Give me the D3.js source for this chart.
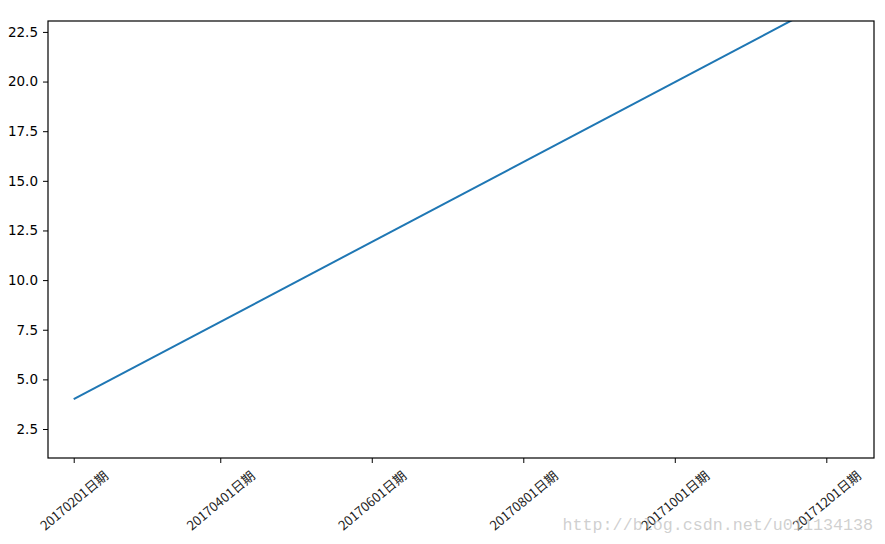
<!DOCTYPE html>
<html>
<head>
<meta charset="utf-8">
<script src="https://cdn.jsdelivr.net/npm/d3@7"></script>
<style>
  body { margin: 0; background: #fff; }
  svg { display: block; }
</style>
</head>
<body>
<div id="chart"></div>
<script>
// data: one straight line over the date axis
const dates = ['20170201', '20171201'];
const values = [4, 24];
const xTickDates = ['20170201', '20170401', '20170601', '20170801', '20171001', '20171201'];
const yTicks = [2.5, 5.0, 7.5, 10.0, 12.5, 15.0, 17.5, 20.0, 22.5];
const watermark = 'http://blog.csdn.net/u011134138';

const width = 885, height = 544;
const margin = { top: 21, right: 11, bottom: 86, left: 48 };
const parse = d3.utcParse('%Y%m%d');
const DAY = 864e5;

const svg = d3.select('#chart').append('svg')
    .attr('width', width)
    .attr('height', height);

// date axis, padded a bit past first and last tick like the original
const x = d3.scaleUtc()
    .domain([new Date(+parse(xTickDates[0]) - 10.35 * DAY), new Date(+parse(xTickDates[xTickDates.length - 1]) + 19.2 * DAY)])
    .range([margin.left, width - margin.right]);

const y = d3.scaleLinear()
    .domain([1.04, 23.05])
    .range([height - margin.bottom, margin.top]);

// clip the line to the axes box like matplotlib does
svg.append('clipPath').attr('id', 'plot-clip')
    .append('rect')
    .attr('x', margin.left)
    .attr('y', margin.top)
    .attr('width', width - margin.left - margin.right)
    .attr('height', height - margin.top - margin.bottom);

const line = d3.line()
    .x((d, i) => x(parse(dates[i])))
    .y(d => y(d));

svg.append('path')
    .datum(values)
    .attr('clip-path', 'url(#plot-clip)')
    .attr('fill', 'none')
    .attr('stroke', '#1f77b4')
    .attr('stroke-width', 2)
    .attr('d', line);

// y axis
const yAxis = svg.append('g')
    .attr('transform', `translate(${margin.left},0)`)
    .call(d3.axisLeft(y).tickValues(yTicks).tickFormat(d3.format('.1f')).tickSize(5).tickPadding(5));
yAxis.select('.domain').remove();
yAxis.selectAll('line').attr('stroke', '#000');
yAxis.selectAll('text')
    .attr('fill', '#000')
    .style('font-family', '"DejaVu Sans", sans-serif')
    .style('font-size', '13.5px');

// x axis
const xTickVals = xTickDates.map(parse);
const xAxis = svg.append('g')
    .attr('transform', `translate(0,${height - margin.bottom})`)
    .call(d3.axisBottom(x).tickValues(xTickVals).tickSize(5).tickFormat(''));
xAxis.select('.domain').remove();
xAxis.selectAll('line').attr('stroke', '#000');

svg.append('g').selectAll('text')
    .data(xTickDates)
    .join('text')
    .attr('transform', d => `translate(${x(parse(d))},${height - margin.bottom + 42}) rotate(-40)`)
    .attr('text-anchor', 'middle')
    .attr('dominant-baseline', 'central')
    .attr('fill', '#222')
    .style('font-family', '"Noto Sans CJK SC", sans-serif')
    .style('font-size', '13px')
    .text(d => d + '日期');

// axes box
svg.append('rect')
    .attr('x', margin.left)
    .attr('y', margin.top)
    .attr('width', width - margin.left - margin.right)
    .attr('height', height - margin.top - margin.bottom)
    .attr('fill', 'none')
    .attr('stroke', '#000')
    .attr('stroke-width', 1.2);

// blog watermark
svg.append('text')
    .attr('x', width - 12)
    .attr('y', 530)
    .attr('text-anchor', 'end')
    .attr('fill', '#bbb')
    .attr('fill-opacity', 0.7)
    .style('font-family', '"Liberation Mono", monospace')
    .style('font-size', '16.7px')
    .text(watermark);
</script>
</body>
</html>
